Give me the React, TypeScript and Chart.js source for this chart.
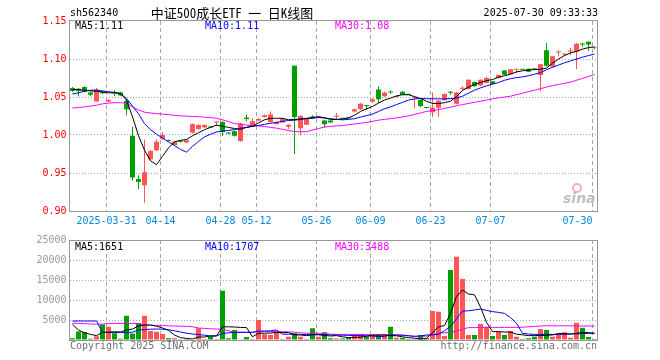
import React, { useEffect, useRef } from 'react';
import { Chart, registerables } from 'chart.js';

Chart.register(...registerables);

// ---------- DATA ----------
const dates = [
  '2025-03-21', '2025-03-24', '2025-03-25', '2025-03-26', '2025-03-27', '2025-03-28',
  '2025-03-31', '2025-04-01', '2025-04-02', '2025-04-03',
  '2025-04-07', '2025-04-08', '2025-04-09', '2025-04-10', '2025-04-11',
  '2025-04-14', '2025-04-15', '2025-04-16', '2025-04-17', '2025-04-18',
  '2025-04-21', '2025-04-22', '2025-04-23', '2025-04-24', '2025-04-25',
  '2025-04-28', '2025-04-29', '2025-04-30',
  '2025-05-07', '2025-05-08', '2025-05-09',
  '2025-05-12', '2025-05-13', '2025-05-14', '2025-05-15', '2025-05-16',
  '2025-05-19', '2025-05-20', '2025-05-21', '2025-05-22', '2025-05-23',
  '2025-05-26', '2025-05-27', '2025-05-28', '2025-05-29', '2025-05-30',
  '2025-06-03', '2025-06-04', '2025-06-05', '2025-06-06',
  '2025-06-09', '2025-06-10', '2025-06-11', '2025-06-12', '2025-06-13',
  '2025-06-16', '2025-06-17', '2025-06-18', '2025-06-19', '2025-06-20',
  '2025-06-23', '2025-06-24', '2025-06-25', '2025-06-26', '2025-06-27',
  '2025-06-30', '2025-07-01', '2025-07-02', '2025-07-03', '2025-07-04',
  '2025-07-07', '2025-07-08', '2025-07-09', '2025-07-10', '2025-07-11',
  '2025-07-14', '2025-07-15', '2025-07-16', '2025-07-17', '2025-07-18',
  '2025-07-21', '2025-07-22', '2025-07-23', '2025-07-24', '2025-07-25',
  '2025-07-28', '2025-07-29', '2025-07-30',
];

const opens = [
  1.062, 1.061, 1.063, 1.056, 1.044, 1.057, 1.044, 1.056, 1.056, 1.045,
  0.999, 0.942, 0.934, 0.968, 0.980, 0.995, 0.993, 0.987, 0.992, 0.990,
  1.003, 1.008, 1.010, 1.011, 1.0165, 1.017, 1.003, 1.005, 0.992, 1.023,
  1.011, 1.019, 1.0236, 1.017, 1.014, 1.0166, 1.011, 1.091, 1.009, 1.0135,
  1.024, 1.023, 1.019, 1.019, 1.024, 1.022, 1.0225, 1.031, 1.034, 1.039,
  1.044, 1.060, 1.051, 1.057, 1.050, 1.057, 1.0535, 1.049, 1.046, 1.036,
  1.030, 1.0357, 1.0456, 1.0565, 1.041, 1.061, 1.0605, 1.0697, 1.065, 1.0684,
  1.0706, 1.075, 1.085, 1.080, 1.086, 1.0862, 1.0873, 1.0868, 1.079, 1.1114,
  1.090, 1.1085, 1.1055, 1.110, 1.110, 1.1195, 1.1228, 1.114,
];

const closes = [
  1.058, 1.058, 1.057, 1.053, 1.060, 1.055, 1.046, 1.055, 1.052, 1.034,
  0.944, 0.938, 0.951, 0.979, 0.991, 1.000, 0.992, 0.991, 0.991, 0.993,
  1.014, 1.013, 1.013, 1.010, 1.0175, 1.004, 1.002, 0.999, 1.015, 1.021,
  1.018, 1.021, 1.026, 1.027, 1.017, 1.021, 1.0135, 1.0236, 1.025, 1.021,
  1.023, 1.024, 1.014, 1.0166, 1.025, 1.0215, 1.022, 1.034, 1.041, 1.038,
  1.047, 1.047, 1.056, 1.056, 1.051, 1.053, 1.053, 1.050, 1.038, 1.0355,
  1.0357, 1.045, 1.054, 1.0555, 1.056, 1.0615, 1.0728, 1.064, 1.0728, 1.075,
  1.067, 1.079, 1.0794, 1.0865, 1.0868, 1.0858, 1.0833, 1.0864, 1.093, 1.091,
  1.1035, 1.109, 1.106, 1.1108, 1.120, 1.119, 1.119, 1.1148,
];

const highs = [
  1.063, 1.062, 1.064, 1.057, 1.062, 1.058, 1.047, 1.059, 1.057, 1.047,
  1.011, 0.947, 0.994, 0.980, 0.994, 1.004, 0.994, 0.992, 0.993, 0.994,
  1.015, 1.014, 1.014, 1.0115, 1.018, 1.018, 1.0035, 1.006, 1.016, 1.027,
  1.022, 1.022, 1.027, 1.031, 1.018, 1.022, 1.014, 1.0915, 1.026, 1.0215,
  1.026, 1.025, 1.020, 1.020, 1.029, 1.0225, 1.023, 1.035, 1.042, 1.0395,
  1.0486, 1.064, 1.057, 1.0587, 1.0515, 1.0575, 1.054, 1.0505, 1.047, 1.0365,
  1.056, 1.046, 1.055, 1.058, 1.057, 1.064, 1.0735, 1.070, 1.0735, 1.077,
  1.071, 1.0795, 1.0855, 1.087, 1.087, 1.0865, 1.0875, 1.087, 1.0935, 1.121,
  1.104, 1.1114, 1.108, 1.1145, 1.121, 1.1215, 1.123, 1.116,
];

const lows = [
  1.057, 1.051, 1.056, 1.051, 1.044, 1.054, 1.043, 1.051, 1.051, 1.026,
  0.940, 0.929, 0.911, 0.966, 0.979, 0.993, 0.991, 0.986, 0.990, 0.989,
  1.002, 1.007, 1.0095, 1.0095, 1.012, 0.999, 1.001, 0.998, 0.991, 1.018,
  1.011, 1.018, 1.023, 1.016, 1.014, 1.016, 1.008, 0.975, 1.000, 1.013,
  1.021, 1.022, 1.010, 1.016, 1.021, 1.021, 1.0215, 1.030, 1.033, 1.033,
  1.042, 1.042, 1.050, 1.054, 1.0495, 1.0525, 1.0525, 1.035, 1.037, 1.035,
  1.0234, 1.024, 1.045, 1.053, 1.040, 1.0587, 1.060, 1.0635, 1.064, 1.068,
  1.0665, 1.0745, 1.079, 1.079, 1.0815, 1.0855, 1.083, 1.0862, 1.0574, 1.090,
  1.089, 1.1035, 1.104, 1.105, 1.087, 1.116, 1.111, 1.1125,
];

const volumes = [
  450, 2150, 2000, 300, 950, 3850, 3330, 1670, 300, 6080,
  1600, 4250, 6080, 2250, 2080, 1500, 420, 420, 170, 250,
  150, 2920, 250, 830, 250, 12330, 420, 2500, 170, 750,
  250, 5000, 1420, 1250, 2250, 250, 830, 1670, 830, 250,
  2920, 830, 1920, 420, 400, 400, 580, 1420, 1420, 830,
  1420, 1250, 1420, 3330, 580, 580, 250, 250, 1250, 420,
  7250, 7080, 1000, 17500, 20830, 15250, 1250, 1250, 4000, 3330,
  1000, 2080, 1250, 2250, 830, 250, 420, 830, 2750, 2500,
  830, 1420, 1920, 580, 4330, 3080, 750, 250,
];

const ma5 = [
  1.0600, 1.0595, 1.0590, 1.0580, 1.0575, 1.0565, 1.0555, 1.0555, 1.0545, 1.0460,
  1.0240, 0.9990, 0.9800, 0.9660, 0.9610, 0.9720, 0.9830, 0.9910, 0.9930, 0.9940,
  0.9990, 1.0030, 1.0070, 1.0100, 1.0130, 1.0115, 1.0100, 1.0085, 1.0075, 1.0100,
  1.0115, 1.0160, 1.0200, 1.0220, 1.0220, 1.0220, 1.0200, 1.0205, 1.0210, 1.0220,
  1.0230, 1.0240, 1.0225, 1.0205, 1.0205, 1.0210, 1.0225, 1.0260, 1.0310, 1.0345,
  1.0375, 1.0420, 1.0460, 1.0485, 1.0515, 1.0530, 1.0530, 1.0505, 1.0480, 1.0445,
  1.0415, 1.0415, 1.0425, 1.0445, 1.0505, 1.0585, 1.0630, 1.0665, 1.0690, 1.0715,
  1.0730, 1.0760, 1.0780, 1.0800, 1.0830, 1.0845, 1.0855, 1.0860, 1.0865, 1.0880,
  1.0945, 1.1000, 1.1045, 1.1080, 1.1100, 1.1130, 1.1150, 1.1160,
];

const ma10 = [
  1.0540, 1.0555, 1.0575, 1.0590, 1.0590, 1.0580, 1.0570, 1.0560, 1.0545, 1.0480,
  1.0380, 1.0280, 1.0150, 1.0070, 1.0010, 0.9960, 0.9910, 0.9860, 0.9810, 0.9775,
  0.9850, 0.9915, 0.9975, 1.0010, 1.0040, 1.0050, 1.0060, 1.0070, 1.0090, 1.0100,
  1.0115, 1.0125, 1.0140, 1.0155, 1.0165, 1.0180, 1.0190, 1.0195, 1.0205, 1.0215,
  1.0220, 1.0230, 1.0225, 1.0215, 1.0205, 1.0200, 1.0205, 1.0215, 1.0235, 1.0255,
  1.0275, 1.0310, 1.0345, 1.0370, 1.0400, 1.0430, 1.0460, 1.0475, 1.0480, 1.0478,
  1.0476, 1.0475, 1.0475, 1.0478, 1.0485, 1.0510, 1.0550, 1.0590, 1.0620, 1.0645,
  1.0670, 1.0690, 1.0720, 1.0740, 1.0755, 1.0765, 1.0780, 1.0800, 1.0820, 1.0860,
  1.0890, 1.0920, 1.0950, 1.0975, 1.1000, 1.1025, 1.1045, 1.1065,
];

const ma30 = [
  1.0355, 1.0362, 1.0370, 1.0380, 1.0392, 1.0410, 1.0420, 1.0425, 1.0425, 1.0418,
  1.0370, 1.0330, 1.0300, 1.0290, 1.0280, 1.0275, 1.0268, 1.0258, 1.0252, 1.0248,
  1.0244, 1.0240, 1.0235, 1.0228, 1.0220, 1.0200, 1.0178, 1.0150, 1.0140, 1.0130,
  1.0125, 1.0120, 1.0112, 1.0100, 1.0090, 1.0075, 1.0058, 1.0045, 1.0043, 1.0043,
  1.0065, 1.0085, 1.0105, 1.0115, 1.0120, 1.0125, 1.0135, 1.0145, 1.0155, 1.0165,
  1.0180, 1.0195, 1.0205, 1.0215, 1.0225, 1.0238, 1.0252, 1.0270, 1.0290, 1.0310,
  1.0320, 1.0335, 1.0350, 1.0365, 1.0385, 1.0400, 1.0415, 1.0430, 1.0445, 1.0460,
  1.0475, 1.0488, 1.0500, 1.0510, 1.0530, 1.0550, 1.0570, 1.0590, 1.0610, 1.0630,
  1.0650, 1.0665, 1.0680, 1.0695, 1.0720, 1.0745, 1.0770, 1.0795,
];

const vma5 = [
  3900, 2500, 1800, 1400, 1100, 1900, 1950, 2050, 2000, 2500,
  2750, 3500, 3750, 3750, 3450, 3000, 2400, 1250, 600, 400,
  250, 750, 750, 1000, 1050, 3300, 3300, 3250, 3150, 3100,
  800, 1700, 1700, 1750, 1900, 1850, 1850, 1300, 1250, 1100,
  1300, 1300, 1150, 1000, 1100, 800, 600, 650, 700, 950,
  1200, 1250, 1250, 1100, 1050, 800, 600, 450, 250, 400,
  1800, 3300, 3600, 6600, 10900, 12500, 11500, 11300, 8200, 4400,
  2100, 2100, 2000, 2000, 1450, 1300, 1100, 1100, 1100, 1200,
  1250, 1650, 1550, 1500, 1650, 1900, 1850, 1650,
];

const vma10 = [
  4750, 4750, 4750, 4750, 4750, 1900, 1900, 1900, 1900, 1900,
  1950, 2500, 2600, 2700, 2750, 2700, 2600, 2300, 2000, 1700,
  1500, 1350, 1200, 1000, 1000, 1650, 1800, 1900, 1900, 1900,
  1900, 2250, 2250, 2300, 2500, 1450, 1450, 1400, 1400, 1400,
  1400, 1400, 1350, 1250, 1250, 1200, 1150, 1100, 1100, 1050,
  1000, 850, 900, 1250, 1250, 1200, 1050, 900, 1000, 1250,
  1300, 1450, 2300, 3400, 5300, 7250, 7300, 7500, 7750, 7400,
  7100, 6900, 6650, 5600, 4200, 1650, 1500, 1400, 1400, 1400,
  1400, 1400, 1450, 1500, 1550, 1600, 1650, 1700,
];

const vma30 = [
  4200, 4150, 4100, 4000, 3950, 3950, 4150, 4150, 4150, 4100,
  4150, 4100, 3800, 3700, 3600, 3600, 3550, 3500, 3450, 3400,
  3300, 3000, 2900, 2800, 2750, 2700, 2300, 1950, 1950, 1950,
  1950, 2100, 2100, 2100, 2100, 2100, 2050, 1950, 1800, 1700,
  1700, 1700, 1650, 1450, 1400, 1400, 1400, 1400, 1400, 1350,
  1300, 1300, 1300, 1300, 1250, 1200, 1100, 950, 900, 950,
  1300, 1650, 1800, 2000, 2250, 2700, 3100, 3100, 3150, 3150,
  3150, 3150, 3150, 3150, 3150, 3200, 3300, 3400, 3500, 3550,
  3550, 3550, 3550, 3550, 3500, 3500, 3500, 3490,
];

const tickDates = ['2025-03-31', '2025-04-14', '2025-04-28', '2025-05-12', '2025-05-26', '2025-06-09', '2025-06-23', '2025-07-07', '2025-07-30'];
const tickTexts = ['2025-03-31', '04-14', '04-28', '05-12', '05-26', '06-09', '06-23', '07-07', '07-30'];

const symbol = 'sh562340';
const title = '中证500成长ETF 一 日K线图';
const stamp = '2025-07-30 09:33:33';
const priceMaLabels = ['MA5:1.11', 'MA10:1.11', 'MA30:1.08'];
const volMaLabels = ['MA5:1651', 'MA10:1707', 'MA30:3488'];

// ---------- STYLE ----------
const UP = '#ff5555';
const DOWN = '#00a000';
const MA_COLORS = ['#000000', '#0000ff', '#ff00ff'];
const MONO = '"DejaVu Sans Mono", monospace';
const GRID = '#a6a6a6';
const FRAME = '#999999';

const candleColors = opens.map((o, i) => (closes[i] >= o ? UP : DOWN));

function drawVerticalGrid(chart: any) {
  const { ctx, chartArea, scales } = chart;
  ctx.save();
  ctx.strokeStyle = GRID;
  ctx.lineWidth = 1;
  ctx.setLineDash([4, 3]);
  tickDates.forEach((d) => {
    const idx = dates.indexOf(d);
    if (idx < 0) return;
    const x = scales.x.getPixelForValue(idx) - 2;
    ctx.beginPath();
    ctx.moveTo(x, chartArea.top);
    ctx.lineTo(x, chartArea.bottom);
    ctx.stroke();
  });
  ctx.restore();
}

function drawFrame(chart: any, topRow: number, bottomRow: number) {
  const { ctx, chartArea } = chart;
  ctx.save();
  ctx.strokeStyle = FRAME;
  ctx.lineWidth = 1;
  const l = chartArea.left; // 69.5 -> pixel column 69
  const r = chartArea.right; // 597.5 -> pixel column 597
  ctx.strokeRect(l, topRow + 0.5, r - l, bottomRow - topRow);
  ctx.restore();
}

const topPlugin = {
  id: 'topDecor',
  beforeDatasetsDraw(chart: any) {
    drawVerticalGrid(chart);
  },
  afterDraw(chart: any) {
    const { ctx, scales, chartArea } = chart;
    drawFrame(chart, 20, 211);
    ctx.save();
    ctx.textBaseline = 'middle';
    // header
    ctx.font = `10px ${MONO}`;
    ctx.fillStyle = '#000';
    ctx.textAlign = 'left';
    ctx.fillText(symbol, 70, 13);
    ctx.textAlign = 'right';
    ctx.fillText(stamp, 598, 13);
    ctx.font = '13px "Noto Sans Mono CJK SC", "Noto Sans CJK SC", sans-serif';
    ctx.textAlign = 'center';
    ctx.fillText(title, 232, 13);
    // MA labels
    ctx.font = `10px ${MONO}`;
    ctx.textAlign = 'left';
    const xs = [75, 205, 335];
    priceMaLabels.forEach((t, i) => {
      ctx.fillStyle = MA_COLORS[i];
      ctx.fillText(t, xs[i], 26);
    });
    // date labels
    ctx.fillStyle = '#0088dd';
    tickDates.forEach((d, i) => {
      const idx = dates.indexOf(d);
      if (idx < 0) return;
      const x = scales.x.getPixelForValue(idx) - 2;
      ctx.textAlign = i === tickDates.length - 1 ? 'right' : 'center';
      ctx.fillText(tickTexts[i], x, chartArea.bottom + 10);
    });
    // sina watermark
    ctx.fillStyle = 'rgba(185,185,185,0.9)';
    ctx.font = 'italic bold 14px "DejaVu Sans", sans-serif';
    ctx.textAlign = 'left';
    ctx.textBaseline = 'alphabetic';
    ctx.fillText('sina', 563, 203);
    ctx.strokeStyle = 'rgba(240,150,150,0.75)';
    ctx.lineWidth = 2;
    ctx.beginPath();
    ctx.arc(577, 188, 4, 0, Math.PI * 2);
    ctx.stroke();
    ctx.restore();
  },
};

const volPlugin = {
  id: 'volDecor',
  beforeDatasetsDraw(chart: any) {
    drawVerticalGrid(chart);
  },
  afterDraw(chart: any) {
    const { ctx } = chart;
    drawFrame(chart, 240, 340);
    ctx.save();
    ctx.textBaseline = 'middle';
    ctx.font = `10px ${MONO}`;
    ctx.textAlign = 'left';
    const xs = [75, 205, 335];
    volMaLabels.forEach((t, i) => {
      ctx.fillStyle = MA_COLORS[i];
      ctx.fillText(t, xs[i], 247);
    });
    ctx.fillStyle = '#707070';
    ctx.fillText('Copyright 2025 SINA.COM', 70, 346);
    ctx.textAlign = 'right';
    ctx.fillText('http://finance.sina.com.cn', 597, 346);
    ctx.restore();
  },
};

function lineDs(data: number[], color: string) {
  return {
    type: 'line' as const,
    data,
    borderColor: color,
    borderWidth: 1,
    pointRadius: 0,
    tension: 0,
    order: 0,
  };
}

function yGridColor(min: number, max: number) {
  return (c: any) => {
    const v = c.tick ? c.tick.value : NaN;
    if (Math.abs(v - min) < 1e-9 || Math.abs(v - max) < 1e-9) return 'rgba(0,0,0,0)';
    return GRID;
  };
}

export default function App() {
  const topRef = useRef<HTMLCanvasElement>(null);
  const volRef = useRef<HTMLCanvasElement>(null);

  useEffect(() => {
    const priceChart = new Chart(topRef.current as HTMLCanvasElement, {
      type: 'bar',
      data: {
        labels: dates,
        datasets: [
          lineDs(ma5, MA_COLORS[0]),
          lineDs(ma10, MA_COLORS[1]),
          lineDs(ma30, MA_COLORS[2]),
          {
            type: 'bar',
            data: dates.map((_, i) => [Math.min(opens[i], closes[i]), Math.max(opens[i], closes[i])]),
            backgroundColor: candleColors,
            barThickness: 5,
            minBarLength: 1,
            grouped: false,
            inflateAmount: 0,
            order: 1,
          } as any,
          {
            type: 'bar',
            data: dates.map((_, i) => [lows[i], highs[i]]),
            backgroundColor: candleColors,
            barThickness: 1,
            grouped: false,
            inflateAmount: 0,
            order: 2,
          } as any,
        ],
      },
      options: {
        responsive: false,
        animation: false,
        devicePixelRatio: 1,
        events: [],
        layout: { padding: { left: 0, right: 62.5, top: 21, bottom: 149 } },
        plugins: { legend: { display: false }, tooltip: { enabled: false } },
        scales: {
          x: { type: 'category', display: false, offset: true },
          y: {
            min: 0.9,
            max: 1.15,
            afterFit: (s: any) => { s.width = 69.5; },
            border: { display: false, dash: [1, 2] },
            grid: { color: yGridColor(0.9, 1.15), drawTicks: false, lineWidth: 1 },
            ticks: {
              stepSize: 0.05,
              padding: 3,
              color: '#ff0000',
              font: { family: 'DejaVu Sans Mono', size: 10 },
              callback: (v: any) => Number(v).toFixed(2),
            },
          },
        },
      } as any,
      plugins: [topPlugin],
    });

    const volChart = new Chart(volRef.current as HTMLCanvasElement, {
      type: 'bar',
      data: {
        labels: dates,
        datasets: [
          lineDs(vma5, MA_COLORS[0]),
          lineDs(vma10, MA_COLORS[1]),
          lineDs(vma30, MA_COLORS[2]),
          {
            type: 'bar',
            data: volumes,
            backgroundColor: candleColors,
            barThickness: 5,
            inflateAmount: 0,
            order: 1,
          } as any,
        ],
      },
      options: {
        responsive: false,
        animation: false,
        devicePixelRatio: 1,
        events: [],
        layout: { padding: { left: 0, right: 62.5, top: 240, bottom: 20 } },
        plugins: { legend: { display: false }, tooltip: { enabled: false } },
        scales: {
          x: { type: 'category', display: false, offset: true },
          y: {
            min: 0,
            max: 25000,
            afterFit: (s: any) => { s.width = 69.5; },
            border: { display: false, dash: [1, 2] },
            grid: { color: yGridColor(0, 25000), drawTicks: false, lineWidth: 1 },
            ticks: {
              stepSize: 5000,
              padding: 3,
              color: '#999999',
              font: { family: 'DejaVu Sans Mono', size: 10 },
              callback: (v: any) => (Number(v) === 0 ? '' : String(v)),
            },
          },
        },
      } as any,
      plugins: [volPlugin],
    });

    return () => {
      priceChart.destroy();
      volChart.destroy();
    };
  }, []);

  return (
    <div style={{ position: 'fixed', left: 0, top: 0, width: 660, height: 360, background: '#ffffff' }}>
      <canvas ref={topRef} width={660} height={360} style={{ position: 'absolute', left: 0, top: 0 }} />
      <canvas ref={volRef} width={660} height={360} style={{ position: 'absolute', left: 0, top: 0 }} />
    </div>
  );
}
